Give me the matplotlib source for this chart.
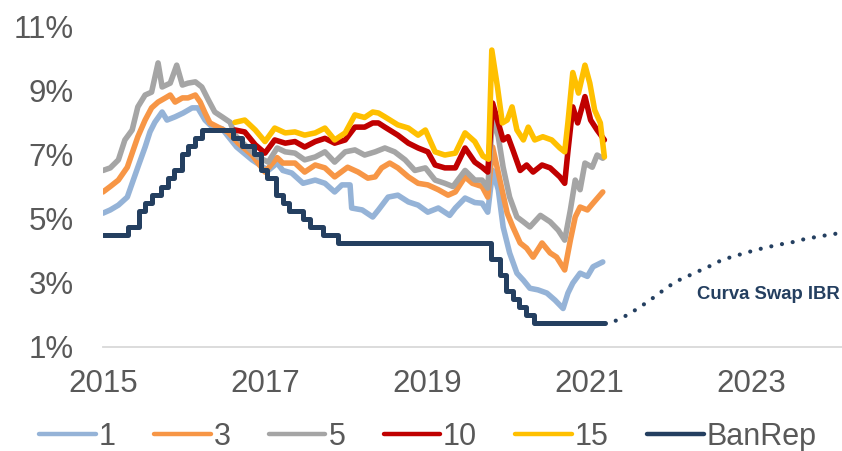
import matplotlib
matplotlib.use("Agg")
import matplotlib.pyplot as plt

plt.rcParams['font.family'] = ['Liberation Sans', 'DejaVu Sans']

# --- datos (eje x en años decimales, y en %) ---
t1 = [2015.00, 2015.09, 2015.19, 2015.30, 2015.36, 2015.43, 2015.52, 2015.58, 2015.64, 2015.73,
      2015.79, 2015.89, 2015.99, 2016.10, 2016.17, 2016.26, 2016.35, 2016.47, 2016.65, 2016.84,
      2017.04, 2017.15, 2017.22, 2017.33, 2017.47, 2017.62, 2017.74, 2017.86, 2017.95, 2018.05,
      2018.07, 2018.20, 2018.33, 2018.40, 2018.52, 2018.64, 2018.77, 2018.89, 2019.01, 2019.14,
      2019.28, 2019.35, 2019.47, 2019.59, 2019.68, 2019.75, 2019.81, 2019.88, 2019.94, 2020.02,
      2020.11, 2020.19, 2020.27, 2020.37, 2020.48, 2020.58, 2020.68, 2020.74, 2020.80, 2020.89,
      2020.98, 2021.05, 2021.17]
y1 = [5.17, 5.27, 5.42, 5.67, 6.10, 6.60, 7.23, 7.70, 8.00, 8.32,
      8.07, 8.17, 8.29, 8.45, 8.45, 8.07, 7.85, 7.80, 7.23, 6.83,
      6.50, 6.73, 6.50, 6.42, 6.10, 6.20, 6.10, 5.83, 6.05, 6.05,
      5.33, 5.27, 5.05, 5.27, 5.67, 5.73, 5.52, 5.42, 5.20, 5.33,
      5.10, 5.33, 5.64, 5.50, 5.48, 5.20, 6.50, 5.90, 4.74, 3.93,
      3.30, 3.08, 2.83, 2.78, 2.68, 2.46, 2.20, 2.68, 2.99, 3.30,
      3.20, 3.50, 3.65]

t3 = [2015.00, 2015.09, 2015.19, 2015.30, 2015.36, 2015.43, 2015.52, 2015.60, 2015.68, 2015.77,
      2015.83, 2015.89, 2015.98, 2016.05, 2016.14, 2016.20, 2016.26, 2016.32, 2016.42, 2016.54,
      2016.67, 2016.84, 2017.00, 2017.15, 2017.22, 2017.37, 2017.49, 2017.62, 2017.74, 2017.86,
      2018.02, 2018.15, 2018.27, 2018.36, 2018.44, 2018.54, 2018.64, 2018.77, 2018.89, 2019.01,
      2019.14, 2019.26, 2019.35, 2019.47, 2019.56, 2019.68, 2019.75, 2019.81, 2019.90, 2019.99,
      2020.06, 2020.15, 2020.23, 2020.31, 2020.42, 2020.52, 2020.60, 2020.70, 2020.77, 2020.83,
      2020.89, 2020.98, 2021.05, 2021.17]
y3 = [5.83, 6.00, 6.20, 6.60, 7.04, 7.55, 8.07, 8.45, 8.63, 8.76,
      8.85, 8.63, 8.76, 8.76, 8.85, 8.63, 8.29, 7.98, 7.85, 7.70,
      7.35, 6.98, 6.45, 6.90, 6.73, 6.73, 6.45, 6.67, 6.58, 6.30,
      6.60, 6.45, 6.26, 6.30, 6.58, 6.73, 6.58, 6.30, 6.10, 6.05,
      5.90, 5.73, 5.83, 6.30, 6.10, 6.00, 5.67, 7.23, 6.20, 5.17,
      4.74, 4.24, 4.08, 3.80, 4.24, 3.93, 3.80, 3.40, 4.33, 5.05,
      5.36, 5.27, 5.48, 5.83]

t5 = [2015.00, 2015.09, 2015.19, 2015.27, 2015.36, 2015.43, 2015.52, 2015.60, 2015.68, 2015.73,
      2015.83, 2015.91, 2015.98, 2016.05, 2016.14, 2016.22, 2016.30, 2016.38, 2016.47, 2016.57,
      2016.63, 2016.75, 2016.91, 2017.04, 2017.15, 2017.25, 2017.37, 2017.49, 2017.62, 2017.74,
      2017.86, 2017.99, 2018.11, 2018.23, 2018.36, 2018.48, 2018.60, 2018.73, 2018.85, 2018.98,
      2019.10, 2019.22, 2019.32, 2019.47, 2019.59, 2019.68, 2019.75, 2019.81, 2019.88, 2019.94,
      2020.02, 2020.11, 2020.19, 2020.27, 2020.40, 2020.52, 2020.62, 2020.70, 2020.77, 2020.83,
      2020.89, 2020.95, 2021.04, 2021.10, 2021.17]
y5 = [6.50, 6.58, 6.83, 7.45, 7.76, 8.48, 8.85, 8.94, 9.85, 9.10,
      9.22, 9.78, 9.16, 9.22, 9.26, 9.10, 8.70, 8.32, 8.17, 8.00,
      7.60, 7.30, 6.92, 6.76, 7.20, 7.08, 7.04, 6.83, 6.92, 7.08,
      6.76, 7.08, 7.14, 6.98, 7.08, 7.20, 7.08, 6.83, 6.50, 6.58,
      6.20, 6.10, 6.00, 6.50, 6.20, 6.20, 5.95, 8.17, 7.55, 6.60,
      5.67, 5.05, 4.90, 4.74, 5.10, 4.90, 4.64, 4.33, 5.27, 6.20,
      5.90, 6.73, 6.60, 6.98, 6.88]

t10 = [2016.63, 2016.75, 2016.88, 2017.00, 2017.12, 2017.25, 2017.37, 2017.49, 2017.62, 2017.74,
       2017.86, 2017.99, 2018.11, 2018.23, 2018.33, 2018.40, 2018.48, 2018.64, 2018.77, 2018.89,
       2019.01, 2019.10, 2019.22, 2019.35, 2019.47, 2019.59, 2019.68, 2019.75, 2019.81, 2019.88,
       2019.94, 2020.00, 2020.06, 2020.15, 2020.23, 2020.31, 2020.42, 2020.52, 2020.64, 2020.70,
       2020.74, 2020.80, 2020.86, 2020.95, 2021.02, 2021.10, 2021.19]
y10 = [7.76, 7.70, 7.30, 7.04, 7.45, 7.35, 7.40, 7.23, 7.40, 7.50,
       7.35, 7.45, 7.85, 7.85, 7.98, 7.98, 7.85, 7.60, 7.35, 7.20,
       7.08, 6.67, 6.58, 6.58, 7.20, 6.76, 6.60, 6.45, 8.60, 7.98,
       7.45, 7.55, 7.14, 6.50, 6.67, 6.45, 6.67, 6.58, 6.30, 6.10,
       7.10, 8.48, 7.98, 8.80, 8.07, 7.76, 7.45]

t15 = [2016.63, 2016.75, 2016.88, 2017.00, 2017.12, 2017.25, 2017.37, 2017.49, 2017.62, 2017.74,
       2017.86, 2017.99, 2018.11, 2018.23, 2018.33, 2018.40, 2018.48, 2018.64, 2018.77, 2018.89,
       2018.98, 2019.10, 2019.22, 2019.35, 2019.47, 2019.59, 2019.69, 2019.76, 2019.80, 2019.87,
       2019.93, 2019.99, 2020.05, 2020.11, 2020.19, 2020.25, 2020.33, 2020.43, 2020.54, 2020.64,
       2020.70, 2020.74, 2020.80, 2020.87, 2020.95, 2021.01, 2021.07, 2021.14, 2021.19]
y15 = [8.00, 8.07, 7.76, 7.40, 7.82, 7.67, 7.70, 7.60, 7.67, 7.82,
       7.45, 7.67, 8.23, 8.15, 8.32, 8.29, 8.17, 7.92, 7.82, 7.60,
       7.76, 7.08, 6.98, 7.04, 7.67, 7.40, 6.95, 6.85, 10.25, 9.10,
       7.98, 8.07, 8.48, 7.76, 7.45, 7.85, 7.45, 7.55, 7.45, 7.20,
       7.08, 8.00, 9.55, 8.91, 9.78, 9.22, 8.38, 7.98, 6.92]

# tasa BanRep (escalones)
t_br = [2015.00, 2015.31, 2015.44, 2015.52, 2015.61, 2015.72, 2015.80, 2015.88, 2015.97, 2016.05,
        2016.13, 2016.22, 2016.61, 2016.72, 2016.86, 2016.95, 2017.03, 2017.13, 2017.22, 2017.30,
        2017.47, 2017.55, 2017.72, 2017.90, 2019.79, 2019.90, 2019.98, 2020.06, 2020.14, 2020.22,
        2020.32, 2021.20]
y_br = [4.50, 4.75, 5.25, 5.50, 5.75, 6.00, 6.25, 6.50, 7.00, 7.25,
        7.50, 7.75, 7.50, 7.25, 7.00, 6.50, 6.25, 5.75, 5.50, 5.25,
        5.00, 4.75, 4.50, 4.25, 3.75, 3.25, 2.75, 2.50, 2.25, 2.00,
        1.75, 1.75]

# curva swap IBR (proyección)
t_sw = [2021.33, 2021.46, 2021.59, 2021.72, 2021.84, 2021.96, 2022.09, 2022.23, 2022.36, 2022.50,
        2022.64, 2022.78, 2022.93, 2023.07, 2023.22, 2023.37, 2023.52, 2023.66, 2023.81, 2023.95,
        2024.10, 2024.25]
y_sw = [1.82, 1.98, 2.18, 2.40, 2.62, 2.85, 3.06, 3.22, 3.37, 3.53,
        3.71, 3.82, 3.93, 4.03, 4.12, 4.20, 4.27, 4.36, 4.43, 4.49,
        4.55, 4.60]

series = [
    ('1', t1, y1, '#95B3D7'),
    ('3', t3, y3, '#F79646'),
    ('5', t5, y5, '#A5A5A5'),
    ('10', t10, y10, '#C00000'),
    ('15', t15, y15, '#FFC000'),
]
navy = '#243F60'
gris = '#595959'

fig = plt.figure(figsize=(8.42, 4.51), dpi=100)
ax = fig.add_axes([103 / 842, 1 - 347 / 451, 739 / 842, 321 / 451])

for nombre, t, y, c in series:
    ax.plot(t, y, color=c, lw=4.0, solid_capstyle='round', solid_joinstyle='round', label=nombre)
ax.plot(t_br, y_br, color=navy, lw=3.6, drawstyle='steps-post',
        solid_capstyle='round', solid_joinstyle='round', label='BanRep')
ax.plot(t_sw, y_sw, color=navy, lw=3.0, linestyle=(0, (0.01, 2.6)), dash_capstyle='round')

ax.text(2023.22, 2.62, 'Curva Swap IBR', color=navy, fontsize=13.3, fontweight='bold',
        ha='center', va='center')

ax.set_xlim(2015.0, 2015 + 739 / 81)
ax.set_ylim(1, 11)
ax.set_yticks([1, 3, 5, 7, 9, 11])
ax.set_yticklabels([f'{v}%' for v in [1, 3, 5, 7, 9, 11]])
ax.set_xticks([2015, 2017, 2019, 2021, 2023])
ax.set_xticklabels(['2015', '2017', '2019', '2021', '2023'])
ax.tick_params(axis='both', length=0, labelsize=22.5, labelcolor=gris)
ax.tick_params(axis='y', pad=21)
ax.tick_params(axis='x', pad=16)

for s in ['top', 'right', 'left']:
    ax.spines[s].set_visible(False)
ax.spines['bottom'].set_color('#D9D9D9')
ax.spines['bottom'].set_linewidth(1.3)
ax.spines['bottom'].set_zorder(0)

leg = fig.legend(loc='center', bbox_to_anchor=(428 / 842, 1 - 437 / 451), ncol=6, frameon=False,
                 fontsize=22, handlelength=1.85, handletextpad=0.1, columnspacing=1.25,
                 borderaxespad=0, borderpad=0)
for txt in leg.get_texts():
    txt.set_color(gris)
for h in leg.get_lines():
    h.set_linewidth(3.2)
    h.set_solid_capstyle('round')

fig.savefig('out.png', dpi=100)
